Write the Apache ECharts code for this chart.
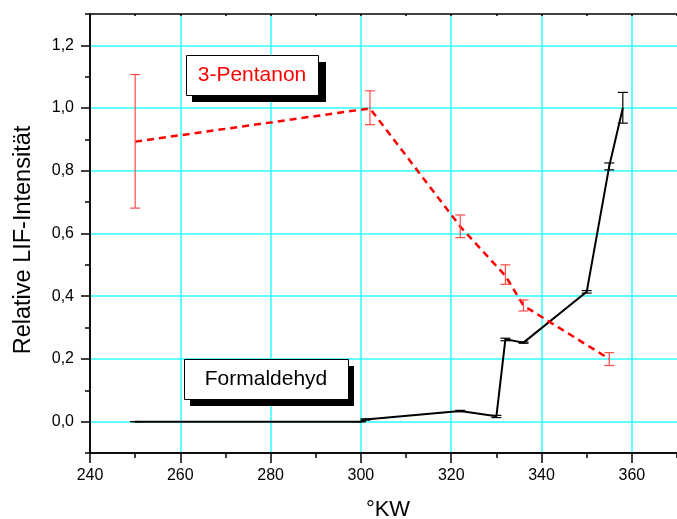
<!DOCTYPE html>
<html>
<head>
<meta charset="utf-8">
<script src="https://cdn.jsdelivr.net/npm/echarts@6/dist/echarts.min.js"></script>
<style>html,body{margin:0;padding:0;background:#fff}#c{width:677px;height:519px}</style>
</head>
<body>
<div id="c"></div>
<script>
// ---- data ----
var pentanonX = [250, 302, 322, 332, 336, 355];
var pentanonY = [0.893, 0.999, 0.622, 0.465, 0.370, 0.200];
var pentanonLow = [0.681, 0.947, 0.587, 0.438, 0.353, 0.179];
var pentanonHigh = [1.107, 1.055, 0.659, 0.500, 0.388, 0.220];

var formX = [250, 300, 301, 322, 330, 332, 336, 350, 355, 358];
var formY = [0.000, 0.000, 0.007, 0.034, 0.017, 0.263, 0.252, 0.414, 0.815, 1.000];
var formLow = [0.000, 0.000, 0.005, 0.032, 0.013, 0.258, 0.250, 0.410, 0.803, 0.952];
var formHigh = [0.000, 0.000, 0.009, 0.036, 0.020, 0.266, 0.254, 0.418, 0.825, 1.050];

var xMajorTicks = [240, 260, 280, 300, 320, 340, 360];
var yMajorTicks = [0.0, 0.2, 0.4, 0.6, 0.8, 1.0, 1.2];

var labelPentanon = '3-Pentanon';
var labelForm = 'Formaldehyd';
var xTitle = '°KW';
var yTitle = 'Relative LIF-Intensität';

// ---- build ----
var FONT = '"Liberation Sans", Arial, sans-serif';
var GRIDC = '#33ffff';

function zip(xs, ys) { return xs.map(function (x, i) { return [x, ys[i]]; }); }
function zip3(xs, lo, hi) { return xs.map(function (x, i) { return [x, lo[i], hi[i]]; }); }

function errRender(color) {
  return function (params, api) {
    var x = api.value(0), lo = api.value(1), hi = api.value(2);
    var a = api.coord([x, lo]), b = api.coord([x, hi]);
    var w = 5;
    var st = { stroke: color, lineWidth: 1.2 };
    return {
      type: 'group',
      children: [
        { type: 'line', shape: { x1: a[0], y1: a[1], x2: b[0], y2: b[1] }, style: st },
        { type: 'line', shape: { x1: a[0] - w, y1: a[1], x2: a[0] + w, y2: a[1] }, style: st },
        { type: 'line', shape: { x1: b[0] - w, y1: b[1], x2: b[0] + w, y2: b[1] }, style: st }
      ]
    };
  };
}

var axisLineStyle = { color: '#000', width: 1.5 };

var option = {
  animation: false,
  backgroundColor: '#fff',
  grid: { left: 90, top: 14, width: 595, height: 439, containLabel: false },
  xAxis: [
    { type: 'value', min: 240, max: 370, interval: 10, position: 'bottom',
      axisLine: { show: true, onZero: false, lineStyle: axisLineStyle },
      axisTick: { show: true, length: 5, lineStyle: axisLineStyle },
      axisLabel: { show: false }, splitLine: { show: false } },
    { type: 'value', min: 240, max: 370, interval: 20, position: 'bottom',
      axisLine: { show: true, onZero: false, lineStyle: axisLineStyle },
      axisTick: { show: true, length: 10, customValues: xMajorTicks, lineStyle: axisLineStyle },
      axisLabel: { show: true, customValues: xMajorTicks, fontSize: 16, color: '#000', fontFamily: FONT, margin: 15 },
      splitLine: { show: true, showMinLine: false, lineStyle: { color: GRIDC, width: 1.5 } } },
    { type: 'value', min: 240, max: 370, interval: 10, position: 'top',
      axisLine: { show: true, onZero: false, lineStyle: axisLineStyle },
      axisTick: { show: true, inside: true, length: 2, lineStyle: axisLineStyle },
      axisLabel: { show: false }, splitLine: { show: false } }
  ],
  yAxis: [
    { type: 'value', min: -0.1, max: 1.3, interval: 0.1, position: 'left',
      axisLine: { show: true, onZero: false, lineStyle: axisLineStyle },
      axisTick: { show: true, length: 5, lineStyle: axisLineStyle },
      axisLabel: { show: false },
      splitLine: { show: true, showMinLine: true, showMaxLine: true,
        lineStyle: { color: ['rgba(0,0,0,0)', GRIDC], width: 1.5 } } },
    { type: 'value', min: -0.1, max: 1.3, interval: 0.1, position: 'left',
      axisLine: { show: true, onZero: false, lineStyle: axisLineStyle },
      axisTick: { show: true, length: 9, customValues: yMajorTicks, lineStyle: axisLineStyle },
      axisLabel: { show: true, customValues: yMajorTicks, fontSize: 16, color: '#000', fontFamily: FONT, margin: 16,
        formatter: function (v) { return v.toFixed(1).replace('.', ','); } },
      splitLine: { show: false } }
  ],
  series: [
    { type: 'line', name: labelForm, xAxisIndex: 0, yAxisIndex: 0, data: zip(formX, formY),
      showSymbol: false, symbol: 'none', z: 3,
      lineStyle: { color: '#000', width: 2 } },
    { type: 'custom', name: 'formErr', xAxisIndex: 0, yAxisIndex: 0, data: zip3(formX, formLow, formHigh),
      renderItem: errRender('#000'), z: 4 },
    { type: 'line', name: labelPentanon, xAxisIndex: 0, yAxisIndex: 0, data: zip(pentanonX, pentanonY),
      showSymbol: false, symbol: 'none', z: 3,
      lineStyle: { color: '#ff0000', width: 2.5, type: [7, 5] } },
    { type: 'custom', name: 'pentErr', xAxisIndex: 0, yAxisIndex: 0, data: zip3(pentanonX, pentanonLow, pentanonHigh),
      renderItem: errRender('#ff4a4a'), z: 4 }
  ],
  graphic: [
    // 3-Pentanon label box
    { type: 'rect', left: 192, top: 62, shape: { width: 134, height: 40 }, style: { fill: '#000' }, z: 10 },
    { type: 'rect', left: 186, top: 55, shape: { width: 132, height: 40 }, style: { fill: '#fff', stroke: '#000', lineWidth: 1 }, z: 11 },
    { type: 'text', x: 252, y: 75, style: { text: labelPentanon, fill: '#ff0000', font: '21px ' + FONT, textAlign: 'center', textVerticalAlign: 'middle' }, z: 12 },
    // Formaldehyd label box
    { type: 'rect', left: 190, top: 366, shape: { width: 164, height: 40 }, style: { fill: '#000' }, z: 10 },
    { type: 'rect', left: 184, top: 359, shape: { width: 164, height: 40 }, style: { fill: '#fff', stroke: '#000', lineWidth: 1 }, z: 11 },
    { type: 'text', x: 266, y: 379, style: { text: labelForm, fill: '#000', font: '21px ' + FONT, textAlign: 'center', textVerticalAlign: 'middle' }, z: 12 },
    // axis titles
    { type: 'text', x: 388, y: 510, style: { text: xTitle, fill: '#000', font: '22px ' + FONT, textAlign: 'center', textVerticalAlign: 'middle' }, z: 12 },
    { type: 'text', x: 24, y: 240, rotation: Math.PI / 2, style: { text: yTitle, fill: '#000', font: '23.5px ' + FONT, textAlign: 'center', textVerticalAlign: 'middle' }, z: 12 }
  ]
};

var chart = echarts.init(document.getElementById('c'), null, { renderer: 'canvas' });
chart.setOption(option);
</script>
</body>
</html>
